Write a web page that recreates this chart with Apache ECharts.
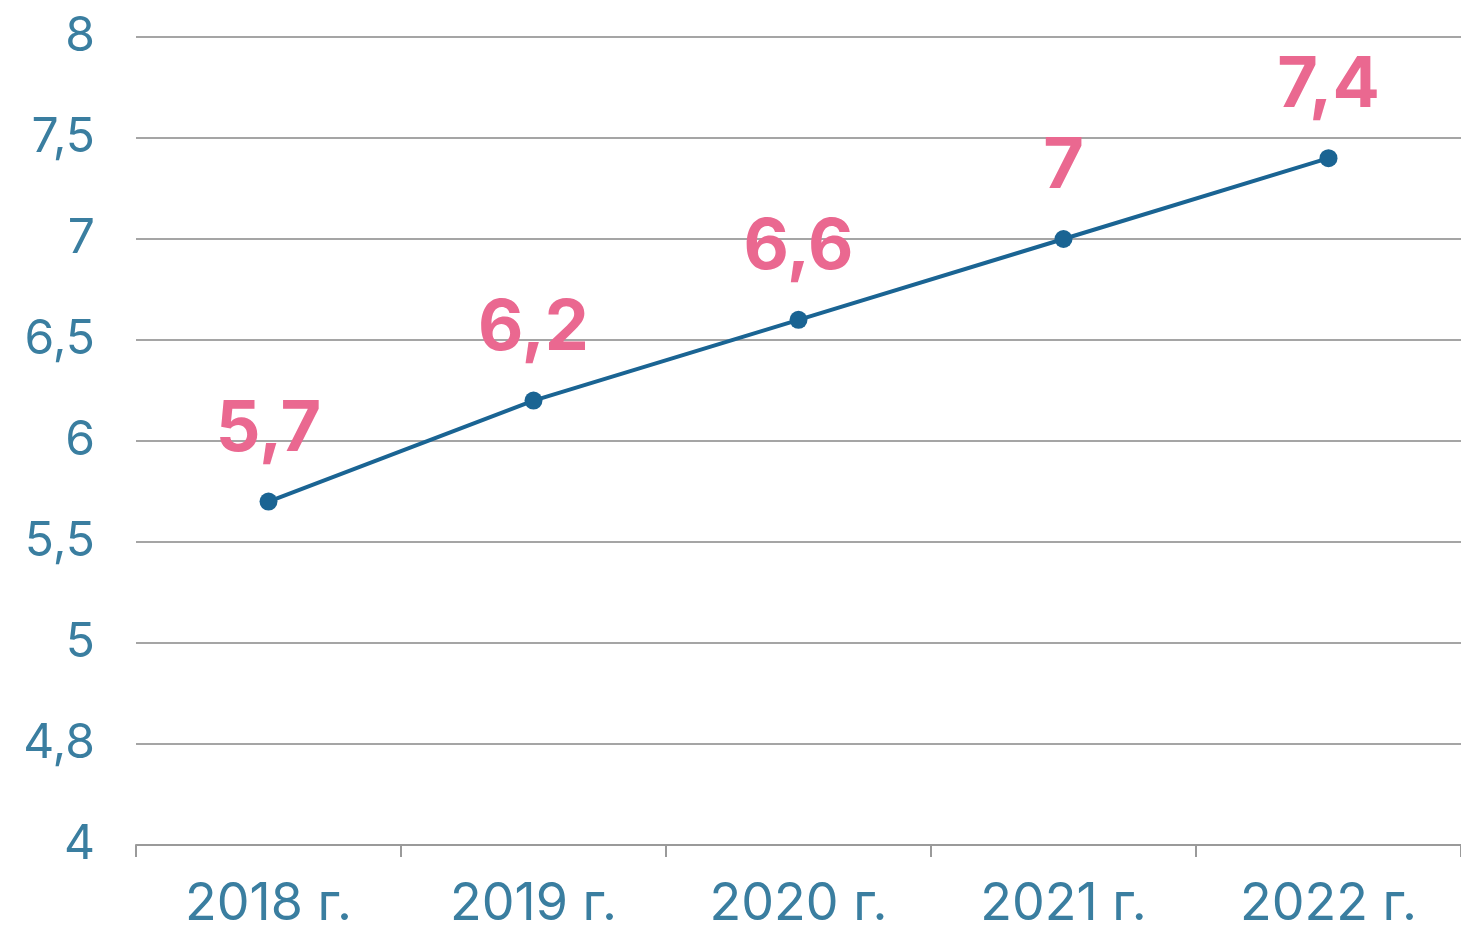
<!DOCTYPE html>
<html>
<head>
<meta charset="utf-8">
<script src="https://cdn.jsdelivr.net/npm/echarts@6/dist/echarts.min.js"></script>
<style>
html,body{margin:0;padding:0;background:#fff;}
#c{width:1461px;height:930px;}
</style>
</head>
<body>
<div id="c"></div>
<script>
const categories = ['2018 г.', '2019 г.', '2020 г.', '2021 г.', '2022 г.'];
const values = [5.7, 6.2, 6.6, 7.0, 7.4];
const valueLabels = ['5,7', '6,2', '6,6', '7', '7,4'];
// tick labels from bottom (4) to top (8), one per 0.5 step
const yTickLabels = ['4', '4,8', '5', '5,5', '6', '6,5', '7', '7,5', '8'];

const chart = echarts.init(document.getElementById('c'));
chart.setOption({
  animation: false,
  grid: { left: 136, right: 0, top: 37, bottom: 77, containLabel: false },
  xAxis: {
    type: 'category',
    data: categories,
    boundaryGap: true,
    axisLine: { show: true, lineStyle: { color: '#9a9a9a', width: 2 } },
    axisTick: { show: true, length: 12, lineStyle: { color: '#9a9a9a', width: 2 } },
    axisLabel: { color: '#3a7ea0', fontSize: 52, fontFamily: 'Inter', margin: 33, letterSpacing: 1 }
  },
  yAxis: {
    type: 'value',
    min: 4, max: 8, interval: 0.5,
    axisLine: { show: false },
    axisTick: { show: false },
    splitLine: { lineStyle: { color: '#a5a5a5', width: 2 } },
    axisLabel: {
      color: '#3a7ea0', fontSize: 48, fontFamily: 'Inter', margin: 41, letterSpacing: 1,
      formatter: function (v) {
        const i = Math.round((v - 4) / 0.5);
        return yTickLabels[i] !== undefined ? yTickLabels[i] : '';
      }
    }
  },
  series: [{
    type: 'line',
    data: values,
    symbol: 'circle',
    symbolSize: 18,
    lineStyle: { color: '#1a6493', width: 4 },
    itemStyle: { color: '#1a6493' },
    label: {
      show: true,
      position: 'top',
      distance: 28,
      color: '#ea6890',
      fontSize: 70,
      fontWeight: 'bold',
      fontFamily: 'Inter',
      letterSpacing: 1,
      formatter: function (p) { return valueLabels[p.dataIndex]; }
    }
  }]
});
</script>
</body>
</html>
